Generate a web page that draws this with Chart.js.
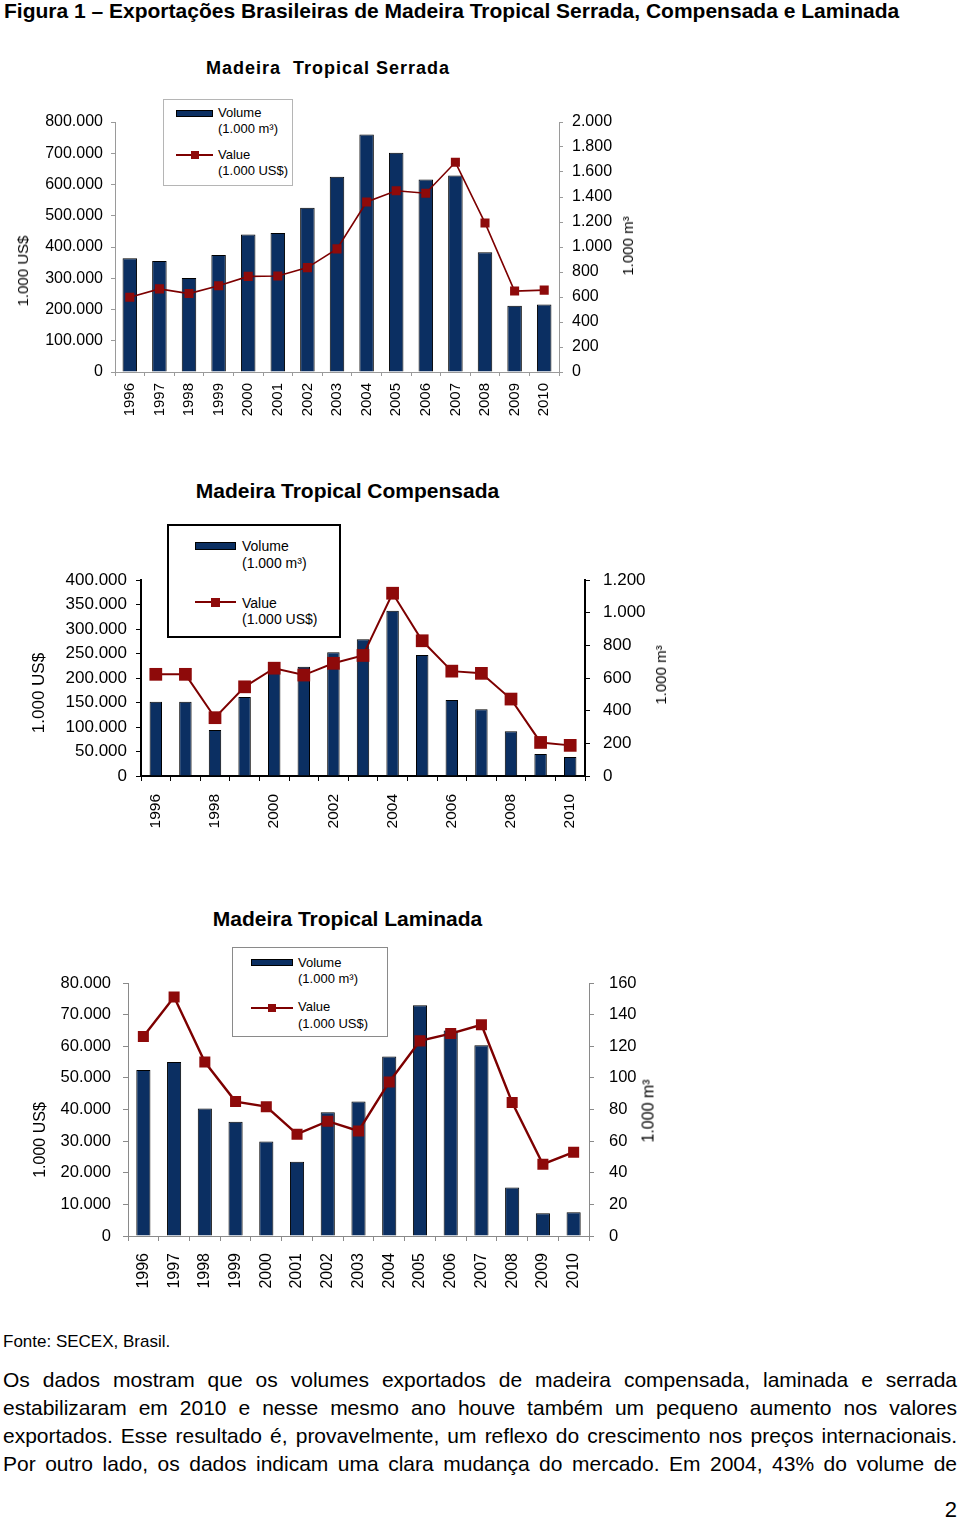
<!DOCTYPE html>
<html lang="pt">
<head>
<meta charset="utf-8">
<title>Figura 1 – Exportações Brasileiras de Madeira Tropical</title>
<script src="https://cdn.jsdelivr.net/npm/chart.js@4.4.1/dist/chart.umd.min.js"></script>
<style>
  html, body { margin: 0; padding: 0; background: #fff; }
  body { font-family: "Liberation Sans", Arial, Helvetica, sans-serif; color: #000; }
  #page { position: relative; width: 960px; height: 1521px; overflow: hidden; }
  #page div, #page canvas { position: absolute; }
  .t { white-space: pre; }
  .fig-title { left: 4px; top: 0; font-size: 21px; line-height: 22px; font-weight: bold; }
  .chart-title { font-weight: bold; transform: translate(-50%, -50%); }
  .axis-title { transform: translate(-50%, -50%) rotate(-90deg); }
  .fonte { left: 3px; top: 1332px; font-size: 17px; line-height: 20px; }
  .para { left: 3px; top: 1366px; width: 954px; font-size: 21px; line-height: 28px;
          text-align: justify; text-align-last: justify; }
  .pagenum { right: 3px; top: 1496px; font-size: 22px; line-height: 28px; }
</style>
</head>
<body>
<div id="page">
  <div class="t fig-title">Figura 1 – Exportações Brasileiras de Madeira Tropical Serrada, Compensada e Laminada</div>

  <canvas id="serradaChart" style="left:0;top:110px" width="640" height="320"></canvas>
  <canvas id="compensadaChart" style="left:0;top:566px" width="700" height="284"></canvas>
  <canvas id="laminadaChart" style="left:0;top:969px" width="700" height="341"></canvas>

  <div class="t fonte">Fonte: SECEX, Brasil.</div>
  <div class="para">Os dados mostram que os volumes exportados de madeira compensada, laminada e serrada estabilizaram em 2010 e nesse mesmo ano houve também um pequeno aumento nos valores exportados. Esse resultado é, provavelmente, um reflexo do crescimento nos preços internacionais. Por outro lado, os dados indicam uma clara mudança do mercado. Em 2004, 43% do volume de</div>
  <div class="t pagenum">2</div>
</div>

<script>
// Exportações de madeira tropical, 1996-2010 (SECEX)
const years = ['1996', '1997', '1998', '1999', '2000', '2001', '2002', '2003',
               '2004', '2005', '2006', '2007', '2008', '2009', '2010'];

// Madeira Tropical Serrada
const serradaVolume = [910, 888, 752, 936, 1101, 1112, 1315, 1562, 1901, 1754, 1541, 1573, 958, 530, 541]; // 1.000 m³
const serradaValue = [239000, 266000, 251000, 276000, 306000, 307000, 334000, 394000,
                      544000, 580000, 572000, 671000, 477000, 259000, 262000]; // 1.000 US$

// Madeira Tropical Compensada
const compensadaVolume = [455, 455, 282, 484, 660, 669, 757, 837, 1012, 741, 465, 408, 274, 135, 116];
const compensadaValue = [207500, 207500, 119000, 182000, 220000, 206000, 230000, 246000,
                         373000, 276000, 214000, 209500, 157000, 68500, 62500];

// Madeira Tropical Laminada
const laminadaVolume = [105, 110, 80.6, 72.3, 59.7, 47, 78.2, 85, 113.5, 146, 130, 120.6, 30.6, 14.4, 15];
const laminadaValue = [63100, 75600, 55000, 42500, 40900, 32200, 36300, 33200,
                       48700, 61700, 64000, 66800, 42200, 22700, 26500];

// axis ranges: min, max, step
const serradaValueTicks = [0, 800000, 100000];
const serradaVolumeTicks = [0, 2000, 200];
const compensadaValueTicks = [0, 400000, 50000];
const compensadaVolumeTicks = [0, 1200, 200];
const laminadaValueTicks = [0, 80000, 10000];
const laminadaVolumeTicks = [0, 160, 20];

const legendLabels = ['Volume', '(1.000 m³)', 'Value', '(1.000 US$)'];
const valueAxisTitle = '1.000 US$';
const volumeAxisTitle = '1.000 m³';

const NAVY = '#0b2f62';
const DARKRED = '#7d0000';
const MARKER = '#8e0a0a';

Chart.defaults.font.family = '"Liberation Sans", Arial, Helvetica, sans-serif';
Chart.defaults.color = '#000';

// pt-BR thousands separator
function fmt(v) {
    return String(v).replace(/\B(?=(\d{3})+(?!\d))/g, '.');
}

function makeChart(id, volume, value, valueTicks, volumeTicks, s) {
    const ctx = document.getElementById(id).getContext('2d');
    const canvas = ctx.canvas;
    new Chart(ctx, {
        type: 'bar',
        data: {
            labels: years,
            datasets: [{
                type: 'line',
                label: 'Value',
                data: value,
                yAxisID: 'yValue',
                order: 0,
                borderColor: DARKRED,
                borderWidth: s.lineWidth,
                pointStyle: 'rect',
                pointRadius: s.pointRadius,
                pointBackgroundColor: MARKER,
                pointBorderColor: MARKER,
                pointBorderWidth: 0,
                tension: 0
            }, {
                type: 'bar',
                label: 'Volume',
                data: volume,
                yAxisID: 'yVolume',
                order: 1,
                backgroundColor: NAVY,
                borderColor: '#000',
                borderWidth: 1,
                barPercentage: s.barPct,
                categoryPercentage: 1
            }]
        },
        options: {
            responsive: false,
            animation: false,
            layout: { padding: { top: s.padTop, left: 0, right: 0, bottom: 0 } },
            plugins: { legend: { display: false }, tooltip: { enabled: false } },
            scales: {
                x: {
                    offset: true,
                    grid: { display: true, offset: true, drawOnChartArea: false, tickLength: s.tick, color: s.axisColor },
                    border: { display: true, color: s.axisColor, width: s.axisWidth },
                    ticks: {
                        autoSkip: false, minRotation: 90, maxRotation: 90, padding: s.xPad,
                        font: { size: s.xFont },
                        callback: function(v, i) { return (i % s.xEvery === 0) ? years[i] : ''; }
                    },
                    afterFit: function(sc) {
                        sc.height = canvas.height - s.plotBottom;
                        sc.paddingLeft = 0; sc.paddingRight = 0;
                    }
                },
                yValue: {
                    position: 'left',
                    min: valueTicks[0], max: valueTicks[1],
                    grid: { display: true, drawOnChartArea: false, tickLength: s.tick, color: s.axisColor },
                    border: { display: true, color: s.axisColor, width: s.axisWidth },
                    ticks: { stepSize: valueTicks[2], padding: s.leftPad, font: { size: s.yFont }, callback: fmt },
                    afterFit: function(sc) {
                        sc.width = s.plotLeft;
                        sc.paddingTop = 0; sc.paddingBottom = 0;
                    }
                },
                yVolume: {
                    position: 'right',
                    min: volumeTicks[0], max: volumeTicks[1],
                    grid: { display: true, drawOnChartArea: false, tickLength: s.tick, color: s.axisColor },
                    border: { display: true, color: s.axisColor, width: s.axisWidth },
                    ticks: { stepSize: volumeTicks[2], padding: s.rightPad, font: { size: s.yFont }, callback: fmt },
                    afterFit: function(sc) {
                        sc.width = canvas.width - s.plotRight;
                        sc.paddingTop = 0; sc.paddingBottom = 0;
                    }
                }
            }
        }
    });
}

makeChart('serradaChart', serradaVolume, serradaValue, serradaValueTicks, serradaVolumeTicks, {
    padTop: 12, plotLeft: 115, plotRight: 559, plotBottom: 262,
    axisColor: '#9a9a9a', axisWidth: 1, tick: 4, leftPad: 8, rightPad: 9, xPad: 7,
    yFont: 16, xFont: 15, xEvery: 1, barPct: 0.49, lineWidth: 1.6, pointRadius: 6.4
});
makeChart('compensadaChart', compensadaVolume, compensadaValue, compensadaValueTicks, compensadaVolumeTicks, {
    padTop: 14, plotLeft: 141, plotRight: 585, plotBottom: 210,
    axisColor: '#000', axisWidth: 2, tick: 5, leftPad: 9, rightPad: 13, xPad: 13,
    yFont: 17, xFont: 15.5, xEvery: 2, barPct: 0.42, lineWidth: 2, pointRadius: 9
});
makeChart('laminadaChart', laminadaVolume, laminadaValue, laminadaValueTicks, laminadaVolumeTicks, {
    padTop: 14, plotLeft: 128, plotRight: 589, plotBottom: 267,
    axisColor: '#8a8a8a', axisWidth: 1, tick: 5, leftPad: 12, rightPad: 15, xPad: 12,
    yFont: 16.5, xFont: 16, xEvery: 1, barPct: 0.46, lineWidth: 2.4, pointRadius: 7.8
});

// titles, axis titles and legends as page text
const page = document.getElementById('page');

function addText(x, y, text, size, cls, extra) {
    const d = document.createElement('div');
    d.className = 't ' + (cls || '');
    d.textContent = text;
    d.style.fontSize = size + 'px';
    d.style.lineHeight = Math.round(size * 1.2) + 'px';
    d.style.left = x + 'px';
    if (cls) {
        d.style.top = y + 'px';
    } else {
        d.style.top = (y - Math.round(size * 1.2) / 2) + 'px';
    }
    if (extra) Object.assign(d.style, extra);
    page.appendChild(d);
    return d;
}

function addBox(x, y, w, h, style) {
    const d = document.createElement('div');
    Object.assign(d.style, { left: x + 'px', top: y + 'px', width: w + 'px', height: h + 'px', boxSizing: 'border-box' }, style);
    page.appendChild(d);
    return d;
}

function addLegend(L) {
    addBox(L.x, L.y, L.w, L.h, { border: L.border, background: '#fff' });
    addBox(L.swX, L.barY - L.barH / 2, L.swW, L.barH, { background: NAVY, border: '1px solid #000' });
    addBox(L.swX, L.lineY - L.lineW / 2, L.swW, L.lineW, { background: DARKRED });
    addBox(L.swX + L.swW / 2 - L.mk / 2, L.lineY - L.mk / 2, L.mk, L.mk, { background: MARKER });
    addText(L.textX, L.rows[0], legendLabels[0], L.font);
    addText(L.textX, L.rows[1], legendLabels[1], L.font);
    addText(L.textX, L.rows[2], legendLabels[2], L.font);
    addText(L.textX, L.rows[3], legendLabels[3], L.font);
}

// chart titles
addText(328, 68, 'Madeira  Tropical Serrada', 18, 'chart-title', { letterSpacing: '1px' });
addText(347.5, 490, 'Madeira Tropical Compensada', 21, 'chart-title');
addText(347.5, 918, 'Madeira Tropical Laminada', 21, 'chart-title');

// axis titles
addText(23, 271, valueAxisTitle, 15, 'axis-title');
addText(628, 246, volumeAxisTitle, 15, 'axis-title');
addText(39, 693, valueAxisTitle, 17, 'axis-title');
addText(661, 675, volumeAxisTitle, 15, 'axis-title');
addText(39, 1140, valueAxisTitle, 16, 'axis-title');
addText(648, 1111, volumeAxisTitle, 16, 'axis-title');

// legends
addLegend({ x: 163, y: 99, w: 130, h: 87, border: '1px solid #b5b5b5',
            swX: 176, swW: 37, barY: 113, barH: 7, lineY: 155, lineW: 2, mk: 8,
            textX: 218, rows: [113, 129, 155, 171], font: 13 });
addLegend({ x: 167, y: 524, w: 174, h: 114, border: '2px solid #000',
            swX: 195, swW: 41, barY: 546, barH: 8, lineY: 602, lineW: 2, mk: 9,
            textX: 242, rows: [546.5, 563, 603, 619], font: 14 });
addLegend({ x: 232, y: 947, w: 156, h: 90, border: '1px solid #8a8a8a',
            swX: 251, swW: 42, barY: 962.5, barH: 7, lineY: 1008, lineW: 2, mk: 8,
            textX: 298, rows: [963, 979, 1007, 1024], font: 13 });
</script>
</body>
</html>
